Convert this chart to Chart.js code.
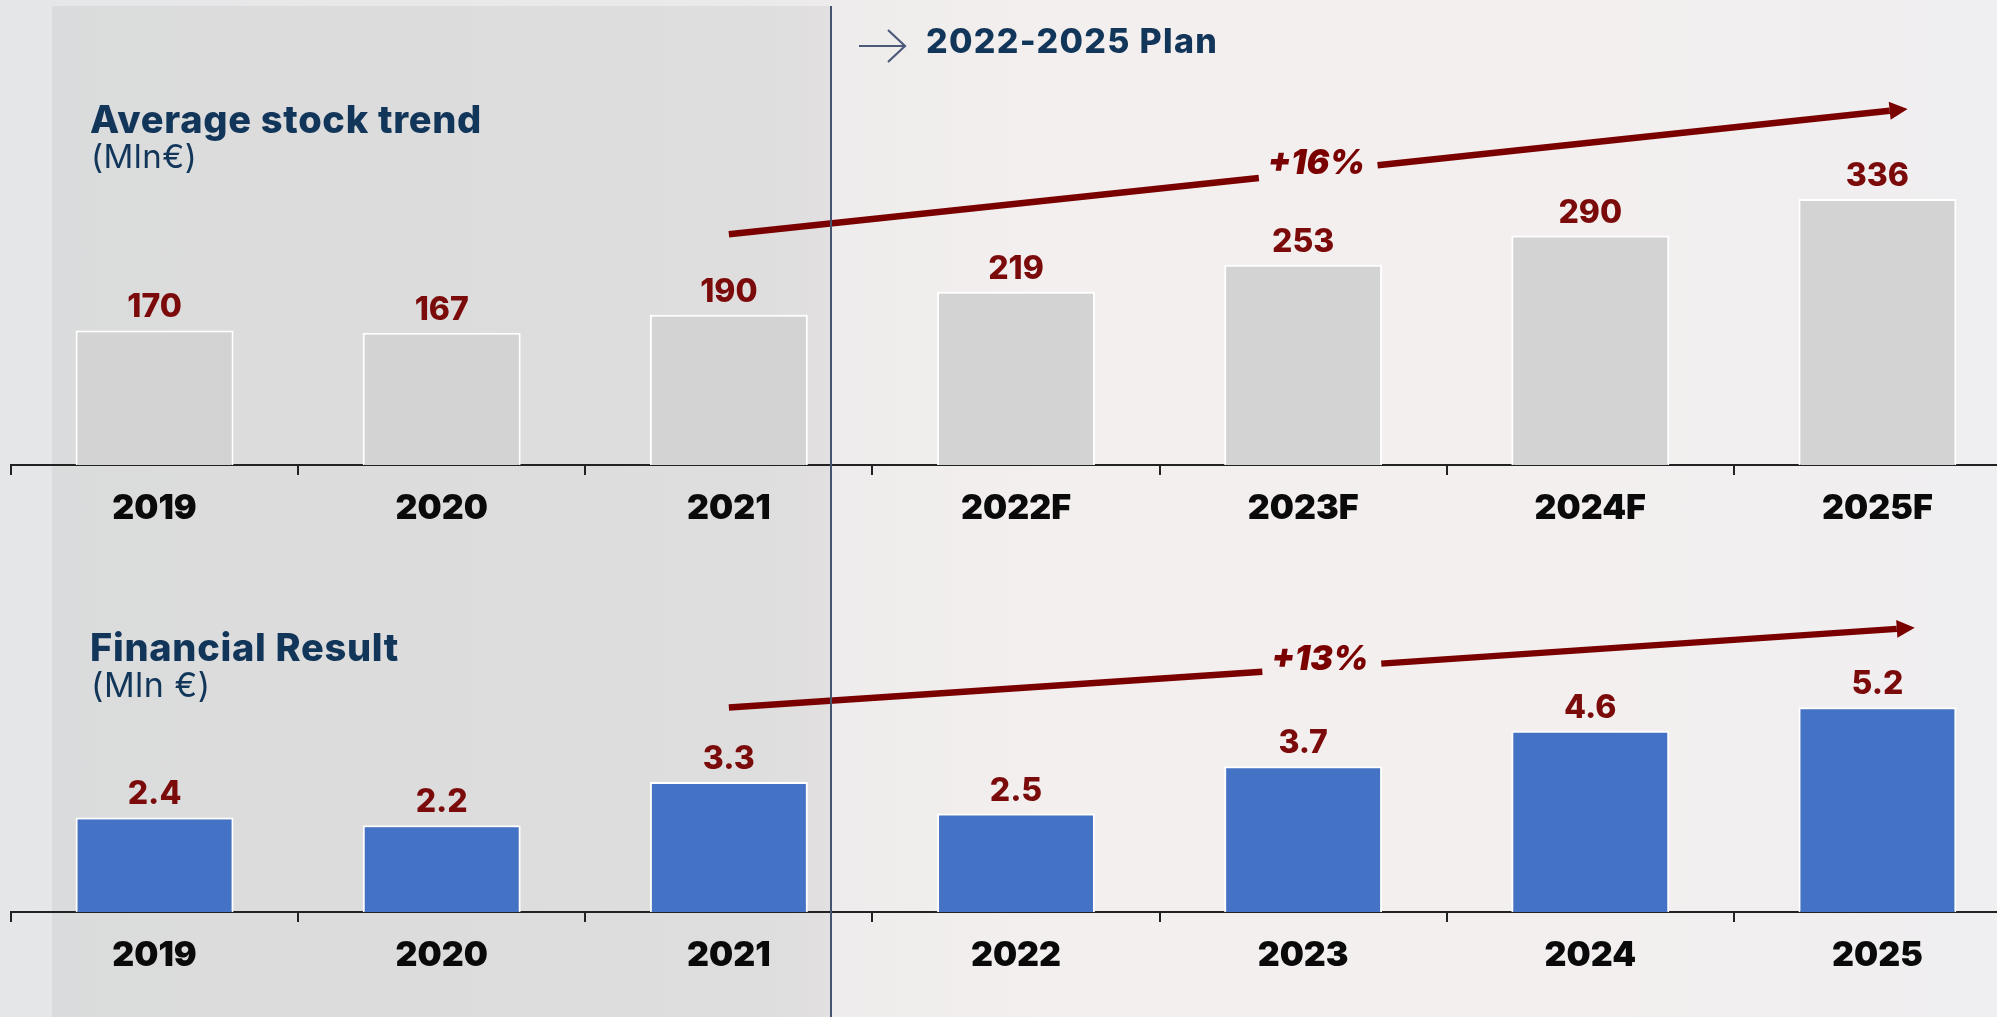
<!DOCTYPE html>
<html>
<head>
<meta charset="utf-8">
<script src="https://cdn.jsdelivr.net/npm/chart.js@4.4.0/dist/chart.umd.min.js"></script>
<style>
  html, body { margin: 0; padding: 0; width: 1997px; height: 1017px; overflow: hidden; }
  body {
    position: relative;
    font-family: Inter, "Open Sans", sans-serif;
    background: linear-gradient(90deg, #e5e6e8 0%, #ebeaea 38%, #f4efef 52%, #f3efef 80%, #efeef0 100%);
  }
  #past { position: absolute; left: 52px; top: 6px; width: 779px; height: 1011px; background: rgba(140, 140, 140, 0.12); }
  .box { position: absolute; left: 0; }
  #divider { position: absolute; left: 830px; top: 6px; width: 2px; height: 1011px; background: #44536e; }
  .title { position: absolute; left: 90px; color: #12365a; font-weight: 800; line-height: 1; white-space: nowrap; letter-spacing: 0.7px; }
  .unit { position: absolute; left: 91px; color: #12365a; font-weight: 400; line-height: 1; white-space: nowrap; letter-spacing: 0.5px; }
  #plan { position: absolute; left: 859px; top: 24px; height: 40px; color: #12365a; font-weight: 800; font-size: 34px; line-height: 1; white-space: nowrap; letter-spacing: 1.3px; }
  #plan svg { position: absolute; left: 0; top: 5px; }
  #plan span { position: absolute; left: 67px; top: 0; }
</style>
</head>
<body>
<div id="past"></div>
<div class="box" style="top:0"><canvas id="stockChart" width="2021" height="525"></canvas></div>
<div class="box" style="top:520px"><canvas id="resultChart" width="2021" height="452"></canvas></div>
<div id="divider"></div>

<div class="title" style="top:100px;font-size:38px">Average stock trend</div>
<div class="unit" style="top:140px;font-size:33px">(Mln€)</div>
<div class="title" style="top:628px;font-size:38px">Financial Result</div>
<div class="unit" style="top:668px;font-size:34px">(Mln €)</div>
<div id="plan">
  <svg width="48" height="34" viewBox="0 0 48 34"><path d="M0 17 H46 M29 1 L46 17 L29 33" stroke="#4b5a78" stroke-width="2.2" fill="none"/></svg>
  <span>2022-2025 Plan</span>
</div>

<script>
// categories
const stockYears = ['2019', '2020', '2021', '2022F', '2023F', '2024F', '2025F'];
const resultYears = ['2019', '2020', '2021', '2022', '2023', '2024', '2025'];

// values
const stockValues = [170, 167, 190, 219, 253, 290, 336];
const resultValues = [2.4, 2.2, 3.3, 2.5, 3.7, 4.6, 5.2];

// y ranges
const stockMax = 575;
const resultMax = 9.7;

// trend arrows: [from category index, from value, to category index, to value]
const stockArrow = [2, 291.5, 6.105, 450];
const resultArrow = [2, 5.19, 6.13, 7.22];
const stockGrowth = '+16%';
const resultGrowth = '+13%';

// value above each bar
const valueLabels = {
    id: 'valueLabels',
    afterDatasetsDraw(chart, args, opts) {
        const ctx = chart.ctx;
        const meta = chart.getDatasetMeta(0);
        const data = chart.data.datasets[0].data;
        ctx.save();
        ctx.font = '800 32px Inter';
        ctx.fillStyle = '#7b0a0a';
        ctx.textAlign = 'center';
        ctx.textBaseline = 'alphabetic';
        meta.data.forEach((bar, i) => {
            ctx.fillText(opts.format(data[i]), bar.x, bar.y - 13);
        });
        ctx.restore();
    }
};

// growth arrow with the label sitting in a gap of the line
const trendArrow = {
    id: 'trendArrow',
    afterDraw(chart, args, opts) {
        const xs = chart.scales.x, ys = chart.scales.y;
        const [i0, v0, i1, v1] = opts.points;
        const x0 = xs.getPixelForValue(i0), y0 = ys.getPixelForValue(v0);
        const x1 = xs.getPixelForValue(i1), y1 = ys.getPixelForValue(v1);
        const ctx = chart.ctx;
        ctx.save();
        ctx.font = 'italic 900 34px Inter';
        const tw = ctx.measureText(opts.label).width;
        const len = Math.hypot(x1 - x0, y1 - y0);
        const ux = (x1 - x0) / len, uy = (y1 - y0) / len;
        const mx = (x0 + x1) / 2, my = (y0 + y1) / 2;
        const gap = tw / 2 + 11;
        const head = 18;
        ctx.strokeStyle = '#7a0000';
        ctx.fillStyle = '#7a0000';
        ctx.lineWidth = 6.5;
        ctx.beginPath();
        ctx.moveTo(x0, y0);
        ctx.lineTo(mx - ux * gap, my - uy * gap);
        ctx.moveTo(mx + ux * gap, my + uy * gap);
        ctx.lineTo(x1 - ux * head, y1 - uy * head);
        ctx.stroke();
        ctx.beginPath();
        ctx.moveTo(x1, y1);
        ctx.lineTo(x1 - ux * head - uy * 9, y1 - uy * head + ux * 9);
        ctx.lineTo(x1 - ux * head + uy * 9, y1 - uy * head - ux * 9);
        ctx.closePath();
        ctx.fill();
        ctx.textAlign = 'center';
        ctx.textBaseline = 'alphabetic';
        ctx.fillText(opts.label, mx - 2, my + 2);
        ctx.restore();
    }
};

function makeChart(id, labels, values, color, max, arrow, growth, fmt) {
    return new Chart(document.getElementById(id), {
        type: 'bar',
        data: {
            labels: labels,
            datasets: [{
                data: values,
                backgroundColor: color,
                borderColor: '#ffffff',
                borderWidth: 2,
                barPercentage: 0.55,
                categoryPercentage: 1
            }]
        },
        options: {
            responsive: false,
            animation: false,
            layout: { padding: { left: 11, top: 10, right: 0, bottom: 0 } },
            plugins: {
                legend: { display: false },
                tooltip: { enabled: false },
                valueLabels: { format: fmt },
                trendArrow: { points: arrow, label: growth }
            },
            scales: {
                x: {
                    grid: { display: true, drawOnChartArea: false, drawTicks: true, tickLength: 10, color: '#222', lineWidth: 2, offset: true },
                    border: { display: true, color: '#222', width: 2 },
                    ticks: { color: '#0a0a0a', font: { family: 'Inter', size: 34, weight: '900' }, padding: 13 },
                    afterFit: s => { s.height = 60; }
                },
                y: { display: false, min: 0, max: max }
            }
        },
        plugins: [valueLabels, trendArrow]
    });
}

makeChart('stockChart', stockYears, stockValues, '#d3d3d3', stockMax, stockArrow, stockGrowth, v => String(v));
makeChart('resultChart', resultYears, resultValues, '#4472c4', resultMax, resultArrow, resultGrowth, v => v.toFixed(1));
</script>
</body>
</html>
